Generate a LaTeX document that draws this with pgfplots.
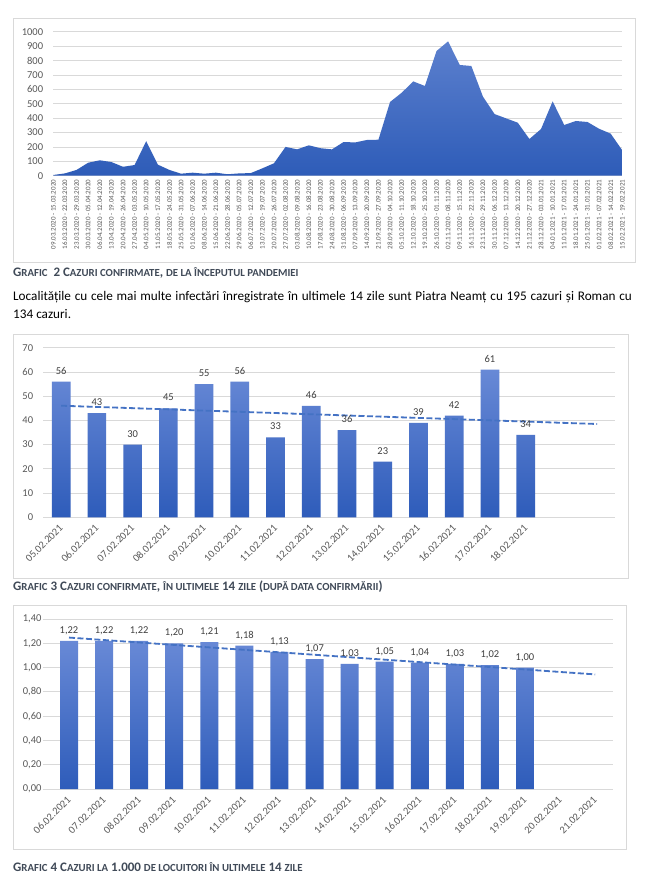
\documentclass[border=0pt]{standalone}
\usepackage{fontspec}
\setmainfont{Carlito}
\usepackage{pgfplots}
\pgfplotsset{compat=1.18}
\definecolor{gridc}{HTML}{D9D9D9}
\definecolor{framec}{HTML}{D9D9D9}
\definecolor{tickc}{HTML}{595959}
\definecolor{labc}{HTML}{404040}
\definecolor{captc}{HTML}{404A58}
\definecolor{trendc}{HTML}{4472C4}
\definecolor{bartop}{RGB}{104,137,214}
\definecolor{barbot}{RGB}{46,92,186}
\definecolor{areatop}{RGB}{92,128,206}
\definecolor{areabot}{RGB}{46,92,184}
\newcommand\s[1]{{\fontsize{10.8bp}{12bp}\selectfont #1}}
\newcommand\capt[1]{{\color{captc}\bfseries\fontsize{13bp}{15bp}\selectfont #1}}
\pgfplotsset{
  common/.style={
    scale only axis, anchor=south west,
    axis line style={draw=none}, major tick length=0pt,
    ymajorgrids, grid style={gridc, line width=0.75bp},
    /pgf/number format/assume math mode=true,
    /pgf/number format/1000 sep={},
    yticklabel style={font=\fontsize{10.5bp}{12bp}\selectfont, text=tickc, inner sep=0pt, anchor=east},
    clip=false,
  }
}
\begin{document}
\begin{tikzpicture}
\path[use as bounding box, fill=white] (0bp,0bp) rectangle (645bp,-877bp);
% frames
\draw[framec, line width=0.75bp] (13bp,-18bp) rectangle (635bp,-262.7bp);
\draw[framec, line width=0.75bp] (13.3bp,-334.3bp) rectangle (628bp,-578bp);
\draw[framec, line width=0.75bp] (13.3bp,-605.7bp) rectangle (626bp,-849bp);

% ---------- chart 1 ----------
\begin{axis}[common,
  at={(53.3bp,-175.7bp)}, width=569bp, height=144bp,
  xmin=0, xmax=49, ymin=0, ymax=1000,
  ytick={0,100,...,1000},
  yticklabel shift=10bp,
  xtick={0,...,49},
  xticklabels={09.03.2020 - 15.03.2020,16.03.2020 - 22.03.2020,23.03.2020 - 29.03.2020,30.03.2020 - 05.04.2020,06.04.2020 - 12.04.2020,13.04.2020 - 19.04.2020,20.04.2020 - 26.04.2020,27.04.2020 - 03.05.2020,04.05.2020 - 10.05.2020,11.05.2020 - 17.05.2020,18.05.2020 - 24.05.2020,25.05.2020 - 31.05.2020,01.06.2020 - 07.06.2020,08.06.2020 - 14.06.2020,15.06.2020 - 21.06.2020,22.06.2020 - 28.06.2020,29.06.2020 - 05.07.2020,06.07.2020 - 12.07.2020,13.07.2020 - 19.07.2020,20.07.2020 - 26.07.2020,27.07.2020 - 02.08.2020,03.08.2020 - 09.08.2020,10.08.2020 - 16.08.2020,17.08.2020 - 23.08.2020,24.08.2020 - 30.08.2020,31.08.2020 - 06.09.2020,07.09.2020 - 13.09.2020,14.09.2020 - 20.09.2020,21.09.2020 - 27.09.2020,28.09.2020 - 04.10.2020,05.10.2020 - 11.10.2020,12.10.2020 - 18.10.2020,19.10.2020 - 25.10.2020,26.10.2020 - 01.11.2020,02.11.2020 - 08.11.2020,09.11.2020 - 15.11.2020,16.11.2020 - 22.11.2020,23.11.2020 - 29.11.2020,30.11.2020 - 06.12.2020,07.12.2020 - 13.12.2020,14.12.2020 - 20.12.2020,21.12.2020 - 27.12.2020,28.12.2020 - 03.01.2021,04.01.2021 - 10.01.2021,11.01.2021 - 17.01.2021,18.01.2021 - 24.01.2021,25.01.2021 - 31.01.2021,01.02.2021 - 07.02.2021,08.02.2021 - 14.02.2021,15.02.2021 - 19.02.2021},
  xticklabel style={rotate=90, anchor=east, inner sep=0pt, font=\fontsize{7bp}{8bp}\selectfont, text=tickc},
  xticklabel shift=4bp,
]
\addplot[draw=none, top color=areatop, bottom color=areabot] coordinates {
(0,5) (1,16) (2,40) (3,90) (4,107) (5,95) (6,62) (7,74) (8,240) (9,77)
(10,40) (11,14) (12,21) (13,14) (14,21) (15,10) (16,16) (17,18) (18,51) (19,86)
(20,200) (21,183) (22,211) (23,191) (24,183) (25,234) (26,231) (27,248) (28,250) (29,512)
(30,576) (31,655) (32,623) (33,866) (34,933) (35,769) (36,762) (37,549) (38,428) (39,398)
(40,368) (41,255) (42,324) (43,516) (44,352) (45,380) (46,373) (47,326) (48,292) (49,176)
} \closedcycle;
\end{axis}

\node[anchor=west, inner sep=0pt] at (13bp,-273bp) {\capt{G\s{RAFIC}~ 2 C\s{AZURI CONFIRMATE}, \s{DE LA ÎNCEPUTUL PANDEMIEI}}};

\node[anchor=base west, inner sep=0pt] at (13bp,-300bp) {\fontsize{13.2bp}{15bp}\selectfont\makebox[618.7bp][s]{Localitățile cu cele mai multe infectări înregistrate în ultimele 14 zile sunt Piatra Neamț cu 195 cazuri și Roman cu}};
\node[anchor=base west, inner sep=0pt] at (13bp,-318bp) {\fontsize{13.2bp}{15bp}\selectfont 134 cazuri.};

% ---------- chart 2 ----------
\begin{axis}[common,
  at={(43.3bp,-517.3bp)}, width=571.7bp, height=169.6bp,
  xmin=-0.5, xmax=15.5, ymin=0, ymax=70,
  ytick={0,10,...,70},
  yticklabel shift=10bp,
  xtick={0,...,13},
  xticklabels={05.02.2021,06.02.2021,07.02.2021,08.02.2021,09.02.2021,10.02.2021,11.02.2021,12.02.2021,13.02.2021,14.02.2021,15.02.2021,16.02.2021,17.02.2021,18.02.2021},
  xticklabel style={rotate=45, anchor=east, inner sep=0pt, font=\fontsize{10.5bp}{12bp}\selectfont, text=tickc},
  xticklabel shift=9bp,
]
\addplot[ybar, bar width=18.7bp, draw=none, top color=bartop, bottom color=barbot,
  nodes near coords,
  every node near coord/.append style={font=\fontsize{10.5bp}{12bp}\selectfont, text=labc, anchor=base, inner sep=0pt, yshift=7.5bp}]
  coordinates {(0,56) (1,43) (2,30) (3,45) (4,55) (5,56) (6,33) (7,46) (8,36) (9,23) (10,39) (11,42) (12,61) (13,34)};
\addplot[trendc, line width=1.8bp, dash pattern=on 6bp off 2.5bp] coordinates {(0,46.06) (15,38.51)};
\end{axis}

\node[anchor=west, inner sep=0pt] at (13bp,-587bp) {\capt{G\s{RAFIC} 3 C\s{AZURI CONFIRMATE}, \s{ÎN ULTIMELE} 14 \s{ZILE} (\s{DUPĂ DATA CONFIRMĂRII})}};

% ---------- chart 3 ----------
\begin{axis}[common,
  at={(42.7bp,-789bp)}, width=570bp, height=170bp,
  xmin=-0.75, xmax=15.5, ymin=0, ymax=1.4,
  ytick={0,0.2,...,1.41},
  yticklabel style={/pgf/number format/fixed, /pgf/number format/fixed zerofill, /pgf/number format/precision=2, /pgf/number format/use comma},
  yticklabel shift=1bp,
  xtick={0,...,15},
  xticklabels={06.02.2021,07.02.2021,08.02.2021,09.02.2021,10.02.2021,11.02.2021,12.02.2021,13.02.2021,14.02.2021,15.02.2021,16.02.2021,17.02.2021,18.02.2021,19.02.2021,20.02.2021,21.02.2021},
  xticklabel style={rotate=45, anchor=east, inner sep=0pt, font=\fontsize{10.5bp}{12bp}\selectfont, text=tickc},
  xticklabel shift=9bp,
]
\addplot[ybar, bar width=18bp, draw=none, top color=bartop, bottom color=barbot,
  nodes near coords,
  every node near coord/.append style={/pgf/number format/fixed, /pgf/number format/fixed zerofill, /pgf/number format/precision=2, /pgf/number format/use comma, font=\fontsize{10.5bp}{12bp}\selectfont, text=labc, anchor=base, inner sep=0pt, yshift=7.5bp}]
  coordinates {(0,1.22) (1,1.22) (2,1.22) (3,1.20) (4,1.21) (5,1.18) (6,1.13) (7,1.07) (8,1.03) (9,1.05) (10,1.04) (11,1.03) (12,1.02) (13,1.00)};
\addplot[trendc, line width=1.8bp, dash pattern=on 6bp off 2.5bp] coordinates {(0,1.2471) (15,0.9438)};
\end{axis}

\node[anchor=west, inner sep=0pt] at (13bp,-867bp) {\capt{G\s{RAFIC} 4 C\s{AZURI LA} 1.000 \s{DE LOCUITORI ÎN ULTIMELE} 14 \s{ZILE}}};
\end{tikzpicture}
\end{document}
